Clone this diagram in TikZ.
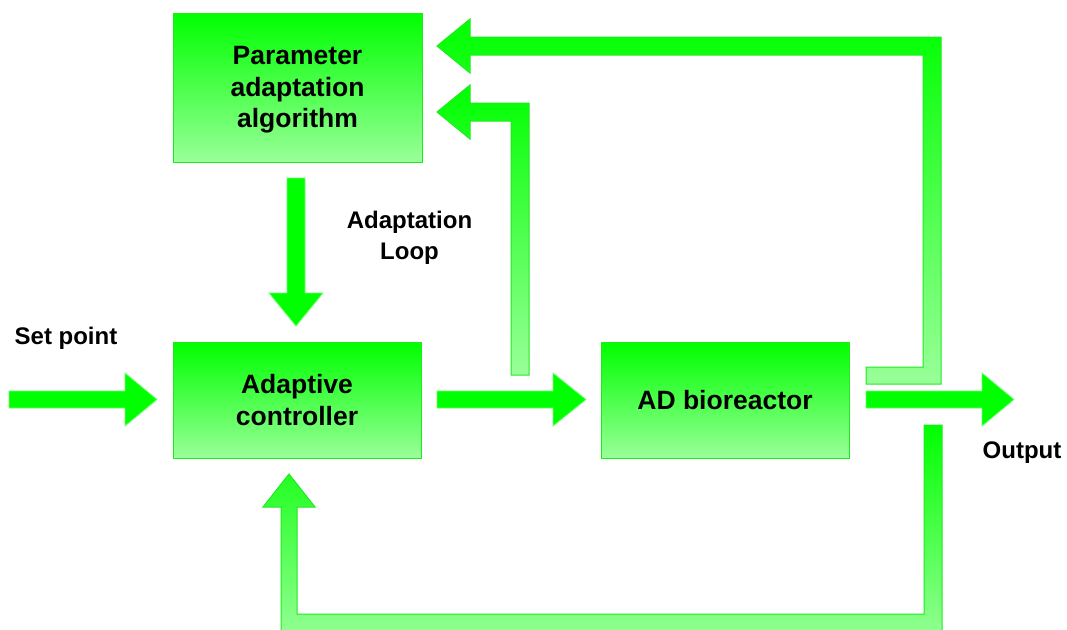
\documentclass[tikz,border=0pt]{standalone}
\usepackage{fontspec}
\setmainfont{Liberation Sans}
\definecolor{gtop}{RGB}{0,255,0}
\definecolor{gbot}{RGB}{153,255,153}
\definecolor{gedge}{RGB}{30,235,30}
\definecolor{aedge}{RGB}{110,255,110}
\begin{document}
\begin{tikzpicture}[x=1pt,y=-1pt,
  lbl/.style={font=\fontsize{24}{31}\selectfont\bfseries, align=center, text=black},
  boxtext/.style={font=\fontsize{26.5}{31.5}\selectfont\bfseries, align=center, text=black},
  blockbox/.style={boxtext, draw=gedge, line width=1pt, top color=gtop, bottom color=gbot, inner sep=0pt},
  solidarrow/.style={fill=gtop, draw=aedge, line width=0.8pt, line join=miter},
  loopshape/.style={top color=gtop, bottom color=gbot, draw=gedge, line width=1pt, line join=miter}]
\useasboundingbox (0,0) rectangle (1067,629);
\clip (0,0) rectangle (1067,629);

% blocks
\node[blockbox, minimum width=249pt, minimum height=149pt] (paa) at (297.5,87.5) {};
\node[boxtext] (paatext) at (297.5,90) {Parameter\\adaptation\\algorithm};
\node[blockbox, minimum width=248pt, minimum height=116pt] (ctrl) at (297,400) {Adaptive\\controller};
\node[blockbox, minimum width=248pt, minimum height=116pt] (adb) at (725,400) {AD bioreactor};

% free labels
\node[lbl, anchor=base] (setpt) at (66,344) {Set point};
\node[lbl, anchor=base] (outlbl) at (1022,458) {Output};
\node[lbl] (looplbl) at (409.5,238) {Adaptation\\Loop};

% straight block arrows
\filldraw[solidarrow] (9,391) -- (125,391) -- (125,373) -- (157,399.5) -- (125,426) -- (125,408) -- (9,408) -- cycle;
\filldraw[solidarrow] (437,391) -- (553,391) -- (553,373) -- (586,399.5) -- (553,426) -- (553,408) -- (437,408) -- cycle;
\filldraw[solidarrow] (866,391) -- (982,391) -- (982,373) -- (1014,399.5) -- (982,426) -- (982,408) -- (866,408) -- cycle;
\filldraw[solidarrow] (287,178) -- (305,178) -- (305,293) -- (323,293) -- (296,326) -- (269,293) -- (287,293) -- cycle;

% output feedback to the adaptation algorithm
\shadedraw[loopshape] (437,46) -- (470,19) -- (470,37) -- (941,37) -- (941,384) -- (866,384) -- (866,367)
  -- (923,367) -- (923,55) -- (470,55) -- (470,73) -- cycle;
% control signal to the adaptation algorithm
\shadedraw[loopshape] (437,112) -- (470,85) -- (470,103) -- (529,103) -- (529,375) -- (511,375)
  -- (511,121) -- (470,121) -- (470,139) -- cycle;
% output feedback to the controller
\shadedraw[loopshape] (924,425) -- (942,425) -- (942,645) -- (281,645) -- (281,507) -- (263,507)
  -- (289,474) -- (315,507) -- (297,507) -- (297,614) -- (924,614) -- cycle;
\end{tikzpicture}
\end{document}
